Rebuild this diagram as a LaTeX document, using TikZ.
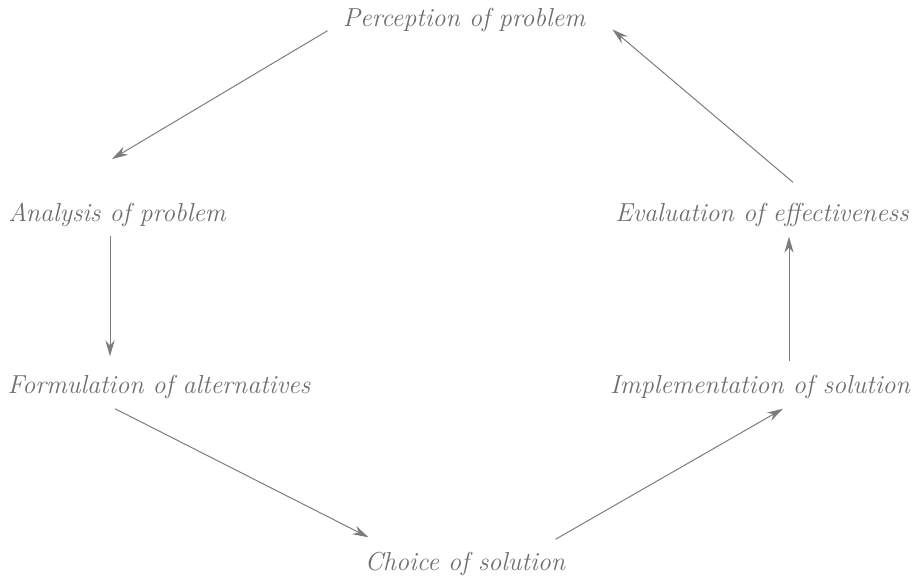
\documentclass[tikz,border=0pt]{standalone}
\usepackage{xcolor}
\usepackage{tikz}
\usetikzlibrary{arrows.meta, positioning, calc}
\definecolor{inkgray}{HTML}{6E6E6E}
\definecolor{linegray}{HTML}{7C7C7C}
\tikzstyle{stage} = [inner sep=0pt, anchor=base, text=inkgray, font=\fontsize{13}{15}\selectfont\itshape]
\tikzstyle{arrow} = [draw=linegray, line width=0.5pt, -{Stealth[length=8pt,width=4.6pt]}]

\begin{document}
\begin{tikzpicture}[x=0.5pt, y=-0.5pt]
\useasboundingbox (0,0) rectangle (916,580);

\node (perc) [stage] at (464,26) {Perception of problem};
\node (anal) [stage] at (117,221) {Analysis of problem};
\node (form) [stage] at (159,393) {Formulation of alternatives};
\node (choice) [stage] at (465,570) {Choice of solution};
\node (impl) [stage] at (760,393) {Implementation of solution};
\node (eval) [stage] at (762,221) {Evaluation of effectiveness};

\draw [arrow] ($(perc.south west)+(-15,-1)$) -- ($(anal.north)+(-5,-43)$);
\draw [arrow] ($(anal.south)+(-7,9)$) -- ($(anal.south |- form.north)+(-7,-18)$);
\draw [arrow] ($(form.south)+(-44,10)$) -- ($(choice.north west)+(4,-14)$);
\draw [arrow] ($(choice.north east)+(-10,-12)$) -- ($(impl.south)+(23,10)$);
\draw [arrow] ($(impl.north)+(29,-13)$) -- ($(eval.south)+(27,10)$);
\draw [arrow] ($(eval.north)+(31,-20)$) -- ($(perc.east)+(27,10)$);

\end{tikzpicture}
\end{document}
